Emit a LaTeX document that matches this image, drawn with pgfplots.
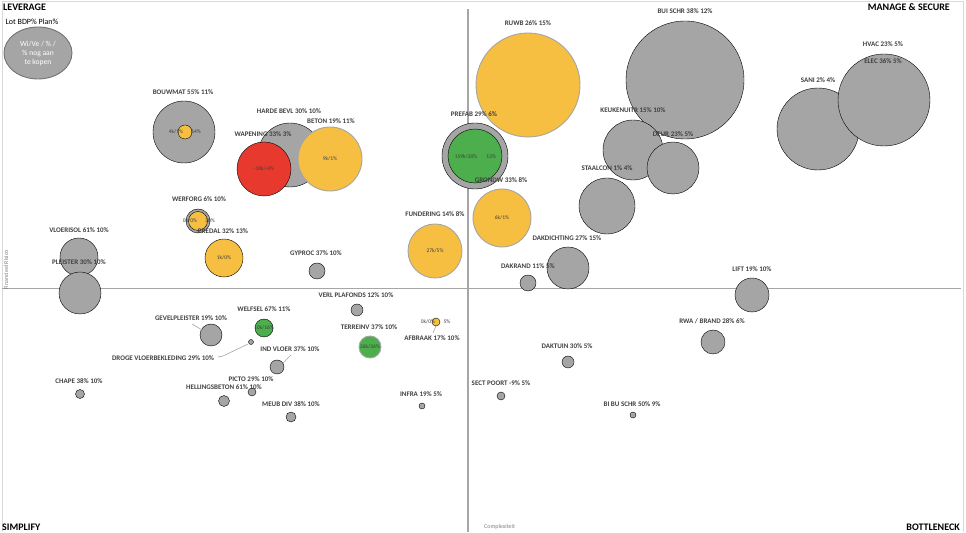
\documentclass[border=0pt]{standalone}
\usepackage{pgfplots}
\pgfplotsset{compat=1.18}
\usepackage{fontspec}
\setmainfont{Carlito}
\definecolor{cgrey}{HTML}{A5A5A5}
\definecolor{cyel}{HTML}{F6BF42}
\definecolor{cred}{HTML}{E8392F}
\definecolor{cgreen}{HTML}{4CAE4C}
\definecolor{ctxt}{HTML}{404040}
\definecolor{cline}{HTML}{A6A6A6}
\definecolor{cframe}{HTML}{D9D9D9}
\pgfplotsset{
  bub/.style={scatter, only marks, mark=*,
    scatter/use mapped color={draw=none, fill=#1},
    visualization depends on={\thisrow{r}\as\rr},
    scatter/@pre marker code/.append style={/tikz/mark size=\rr}},
  bubo/.style={scatter, only marks, mark=*,
    scatter/use mapped color={draw=cgrey, fill=#1},
    mark options={line width=0.9pt},
    visualization depends on={\thisrow{r}\as\rr},
    scatter/@pre marker code/.append style={/tikz/mark size=\rr}},
}
\tikzset{
  lab/.style={font=\fontsize{7}{8}\selectfont\bfseries, text=ctxt, inner sep=0pt},
  inb/.style={font=\fontsize{5.5}{6}\selectfont, text=ctxt, inner sep=0pt},
  quad/.style={font=\fontsize{10}{11}\selectfont\bfseries, text=black, inner sep=0pt},
}
\begin{document}
\begin{tikzpicture}
\begin{axis}[width=966pt, height=532pt, scale only axis,
  xmin=0, xmax=966, ymin=0, ymax=532, y dir=reverse,
  axis lines=none, clip=false, set layers=standard]
\path (rel axis cs:0,0) rectangle (rel axis cs:1,1);
\addplot[cframe, line width=0.8pt] coordinates {(2,532) (2,1) (963,1) (963,532)};
% quadrant lines
\addplot[cline, line width=1.2pt] coordinates {(468,9) (468,532)};
\addplot[cline, line width=1.2pt] coordinates {(2,288.5) (961,288.5)};
% grey bubbles
\addplot[bub=cgrey] table[row sep=\\] {
x y r\\
184 132 31\\
290 155 32\\
475 156 33\\
685 80 59\\
633 150 30\\
673 168 26\\
607 206 28\\
568 268 21\\
528 283 8\\
818 129 41\\
884 100 46\\
752 295 17\\
713 342 12\\
568 362 6\\
501 396 4\\
422 406 3\\
633 415 3\\
198 221 12\\
79 257 19\\
80 293 21\\
317 271 8\\
211 335 11\\
251 342 2.5\\
277 367 7\\
80 394 4.5\\
252 392 4\\
224 401 5.5\\
291 417 5\\
357 310 6\\
};
% yellow with outline
\addplot[bubo=cyel] table[row sep=\\] {
x y r\\
528 85 52\\
330 159 32\\
435 251 27\\
502 218 29\\
};
% yellow plain
\addplot[bub=cyel] table[row sep=\\] {
x y r\\
185 132 7\\
198 221 9.5\\
224 258 19\\
436 322 4\\
};
% red
\addplot[bub=cred] table[row sep=\\] {
x y r\\
264 169 27\\
};
% green
\addplot[bub=cgreen] table[row sep=\\] {
x y r\\
475 156 27\\
264 328 9\\
};
\addplot[bubo=cgreen] table[row sep=\\] {
x y r\\
370 347 11\\
};
\begin{pgfonlayer}{axis foreground}
% legend ellipse
\draw[fill=cgrey, draw=gray!90!black, line width=0.9pt] (axis cs:38,53) ellipse [x radius=34, y radius=26];
\node[font=\fontsize{7.6}{9}\selectfont, text=white, align=center, inner sep=0pt] at (axis cs:38,53) {Wi/Ve / \% /\\\% nog aan\\te kopen};
\node[font=\fontsize{8}{9}\selectfont, text=black, inner sep=0pt] at (axis cs:32,22) {Lot BDP\% Plan\%};
% quadrant titles
\node[quad, anchor=west] at (axis cs:3,7) {LEVERAGE};
\node[quad, anchor=east] at (axis cs:950,7) {MANAGE \& SECURE};
\node[quad, anchor=west] at (axis cs:2,527) {SIMPLIFY};
\node[quad, anchor=east] at (axis cs:960,527) {BOTTLENECK};
\node[font=\fontsize{6}{7}\selectfont, text=gray, anchor=west, inner sep=0pt] at (axis cs:484,527) {Complexiteit};
\node[font=\fontsize{6}{7}\selectfont, text=gray, rotate=90, inner sep=0pt] at (axis cs:6,270) {Financieel Risico};
% leader lines
\draw[cline, line width=0.6pt] (axis cs:192,324) -- (axis cs:202,330);
\draw[cline, line width=0.6pt] (axis cs:218,357) -- (axis cs:223,356) -- (axis cs:248,344);
\draw[cline, line width=0.6pt] (axis cs:283,363) -- (axis cs:291,355);
\draw[cline, line width=0.6pt] (axis cs:436,326) -- (axis cs:433,333);
% bubble labels
\node[lab] at (axis cs:183,92) {BOUWMAT 55\% 11\%};
\node[lab] at (axis cs:289,111) {HARDE BEVL 30\% 10\%};
\node[lab] at (axis cs:263,134) {WAPENING 33\% 3\%};
\node[lab] at (axis cs:331,121) {BETON 19\% 11\%};
\node[lab] at (axis cs:474,114) {PREFAB 29\% 6\%};
\node[lab] at (axis cs:528,23) {RUWB 26\% 15\%};
\node[lab] at (axis cs:685,11) {BUI SCHR 38\% 12\%};
\node[lab] at (axis cs:633,110) {KEUKENUITR 15\% 10\%};
\node[lab] at (axis cs:673,134) {DEUR 23\% 5\%};
\node[lab] at (axis cs:607,168) {STAALCON 1\% 4\%};
\node[lab] at (axis cs:501,180) {GRONDW 33\% 8\%};
\node[lab] at (axis cs:435,214) {FUNDERING 14\% 8\%};
\node[lab] at (axis cs:567,238) {DAKDICHTING 27\% 15\%};
\node[lab] at (axis cs:528,266) {DAKRAND 11\% 5\%};
\node[lab] at (axis cs:818,80) {SANI 2\% 4\%};
\node[lab] at (axis cs:883,44) {HVAC 23\% 5\%};
\node[lab] at (axis cs:883,61) {ELEC 36\% 5\%};
\node[lab] at (axis cs:752,269) {LIFT 19\% 10\%};
\node[lab] at (axis cs:712,321) {RWA / BRAND 28\% 6\%};
\node[lab] at (axis cs:567,346) {DAKTUIN 30\% 5\%};
\node[lab] at (axis cs:501,383) {SECT POORT -9\% 5\%};
\node[lab] at (axis cs:421,394) {INFRA 19\% 5\%};
\node[lab] at (axis cs:632,404) {BI BU SCHR 50\% 9\%};
\node[lab] at (axis cs:432,338) {AFBRAAK 17\% 10\%};
\node[lab] at (axis cs:199,199) {WERFORG 6\% 10\%};
\node[lab] at (axis cs:223,231) {PREDAL 32\% 13\%};
\node[lab] at (axis cs:79,230) {VLOERISOL 61\% 10\%};
\node[lab] at (axis cs:79,262) {PLEISTER 30\% 10\%};
\node[lab] at (axis cs:316,253) {GYPROC 37\% 10\%};
\node[lab] at (axis cs:191,318) {GEVELPLEISTER 19\% 10\%};
\node[lab] at (axis cs:264,309) {WELFSEL 67\% 11\%};
\node[lab] at (axis cs:163,358) {DROGE VLOERBEKLEDING 29\% 10\%};
\node[lab] at (axis cs:290,349) {IND VLOER 37\% 10\%};
\node[lab] at (axis cs:79,381) {CHAPE 38\% 10\%};
\node[lab] at (axis cs:251,379) {PICTO 29\% 10\%};
\node[lab] at (axis cs:224,387) {HELLINGSBETON 61\% 10\%};
\node[lab] at (axis cs:291,404) {MEUB DIV 38\% 10\%};
\node[lab] at (axis cs:356,295) {VERL PLAFONDS 12\% 10\%};
\node[lab] at (axis cs:369,327) {TERREINV 37\% 10\%};
% in-bubble texts
\node[inb] at (axis cs:176,132) {4k/1\%};
\node[inb] at (axis cs:196,132) {64\%};
\node[inb] at (axis cs:264,169) {-18k/-6\%};
\node[inb] at (axis cs:330,159) {9k/1\%};
\node[inb] at (axis cs:466,157) {159k/20\%};
\node[inb] at (axis cs:491,157) {13\%};
\node[inb] at (axis cs:502,218) {6k/1\%};
\node[inb] at (axis cs:435,251) {27k/5\%};
\node[inb] at (axis cs:190,221) {0k/0\%};
\node[inb] at (axis cs:210,221) {30\%};
\node[inb] at (axis cs:224,258) {1k/0\%};
\node[inb] at (axis cs:264,328) {10k/16\%};
\node[inb] at (axis cs:370,347) {26k/26\%};
\node[inb] at (axis cs:428,322) {0k/0\%};
\node[inb] at (axis cs:447,322) {5\%};
\end{pgfonlayer}
\end{axis}
\end{tikzpicture}
\end{document}
